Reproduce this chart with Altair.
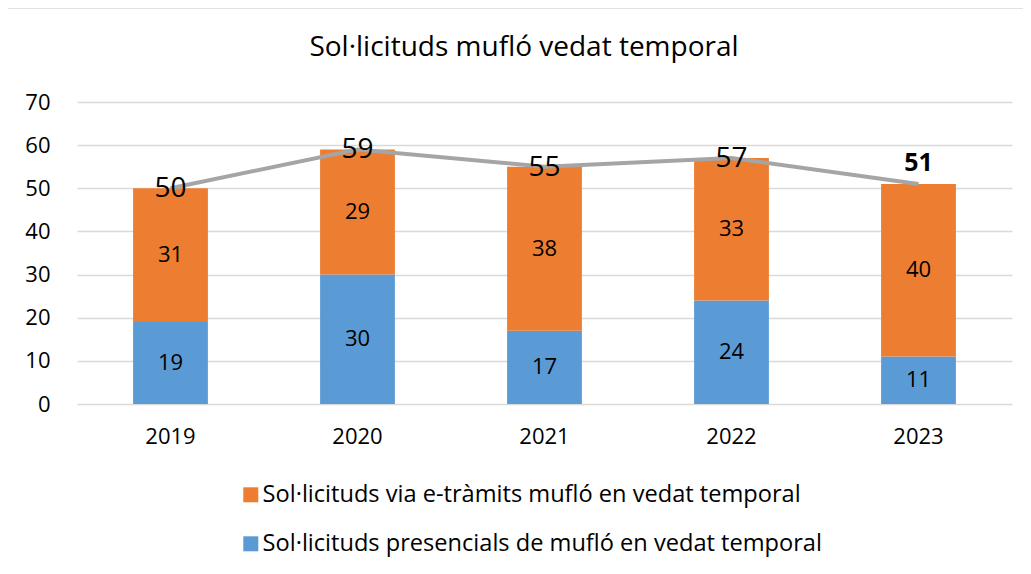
import altair as alt
import pandas as pd

years = ["2019", "2020", "2021", "2022", "2023"]
presencial = [19, 30, 17, 24, 11]
etramits = [31, 29, 38, 33, 40]
totals = [50, 59, 55, 57, 51]

TITLE = "Sol·licituds mufló vedat temporal"
S_E = "Sol·licituds via e-tràmits mufló en vedat temporal"
S_P = "Sol·licituds presencials de mufló en vedat temporal"

rows = []
for i, y in enumerate(years):
    rows.append({"year": y, "serie": S_P, "value": presencial[i], "ord": 0})
    rows.append({"year": y, "serie": S_E, "value": etramits[i], "ord": 1})
df = pd.DataFrame(rows)
tot = pd.DataFrame({"year": years, "total": totals})

FONT = "Open Sans"
xscale = alt.Scale(domain=years, paddingInner=0.6, paddingOuter=0.3)
yscale = alt.Scale(domain=[0, 70])

bars = alt.Chart(df).mark_bar().encode(
    x=alt.X("year:N", scale=xscale, axis=alt.Axis(title=None, labelAngle=0, domain=False, ticks=False,
                                                  labelFontSize=22, labelPadding=22, labelColor="#000000")),
    y=alt.Y("value:Q", stack="zero", scale=yscale,
            axis=alt.Axis(title=None, values=[0, 10, 20, 30, 40, 50, 60, 70], domain=False, ticks=False,
                          tickSize=0, labelFontSize=22, labelPadding=27, labelColor="#000000",
                          gridColor="#d9d9d9", gridWidth=1.5)),
    color=alt.Color("serie:N", scale=alt.Scale(domain=[S_E, S_P], range=["#ED7D31", "#5B9BD5"]),
                    legend=alt.Legend(title=None, orient="none", legendX=162, legendY=381,
                                      symbolType="square", symbolSize=225, symbolStrokeWidth=0,
                                      labelFontSize=23.6, labelLimit=1000, labelOffset=0,
                                      rowPadding=24, labelColor="#000000")),
    order=alt.Order("ord:Q"),
)

seg_labels = alt.Chart(df).transform_stack(
    stack="value", groupby=["year"], as_=["y0", "y1"], sort=[alt.SortField("ord")]
).transform_calculate(mid="(datum.y0 + datum.y1) / 2").mark_text(
    fontSize=22, color="#000000", baseline="middle"
).encode(
    x=alt.X("year:N", scale=xscale),
    y=alt.Y("mid:Q", scale=yscale),
    text=alt.Text("value:Q"),
)

line = alt.Chart(tot).mark_line(color="#a5a5a5", strokeWidth=4).encode(
    x=alt.X("year:N", scale=xscale),
    y=alt.Y("total:Q", scale=yscale),
)

tot_labels = alt.Chart(tot).transform_filter(alt.datum.year != "2023").mark_text(
    fontSize=28, color="#000000", baseline="middle", dy=1
).encode(
    x=alt.X("year:N", scale=xscale),
    y=alt.Y("total:Q", scale=yscale),
    text=alt.Text("total:Q"),
)

tot_last = alt.Chart(tot).transform_filter(alt.datum.year == "2023").mark_text(
    fontSize=25, fontWeight="bold", color="#000000", baseline="middle", dy=-21
).encode(
    x=alt.X("year:N", scale=xscale),
    y=alt.Y("total:Q", scale=yscale),
    text=alt.Text("total:Q"),
)

border = alt.Chart(alt.Data(values=[{}])).mark_rect(fill=None, stroke="#d9d9d9", strokeWidth=1.5).encode(
    x=alt.value(-70), x2=alt.value(2000), y=alt.value(-94), y2=alt.value(2000)
)

title = alt.Chart(alt.Data(values=[{"t": TITLE}])).mark_text(
    fontSize=28, color="#000000", baseline="middle", align="center"
).encode(x=alt.value(447), y=alt.value(-54), text="t:N")

chart = alt.layer(border, title, bars, seg_labels, line, tot_labels, tot_last).properties(
    width=935, height=302,
    padding={"left": 69, "top": 94, "right": 11, "bottom": 156},
    autosize=alt.AutoSizeParams(type="none"),
).configure(font=FONT).configure_view(stroke=None).configure_axis(labelFont=FONT).configure_legend(labelFont=FONT)

chart.save("out.html", embed_options={"renderer": "svg", "actions": False})
